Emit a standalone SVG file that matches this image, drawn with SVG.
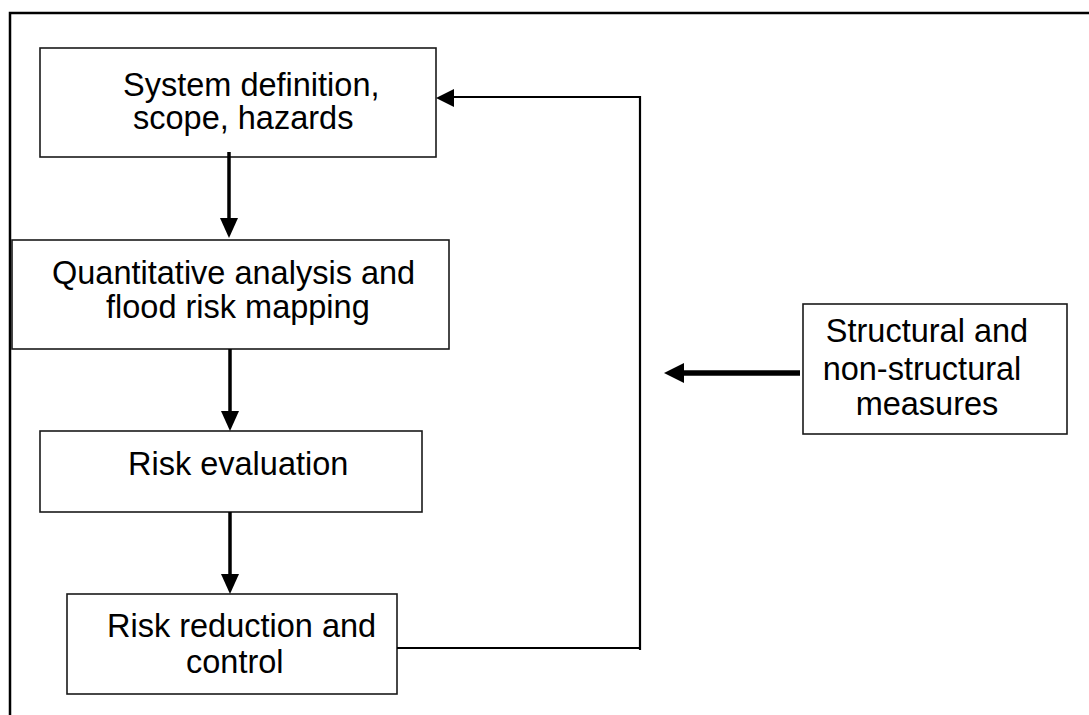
<svg xmlns="http://www.w3.org/2000/svg" width="1089" height="715" viewBox="0 0 1089 715">
<style>
.box{fill:#fff;stroke:#1a1a1a;stroke-width:1.6}
.t{font-family:"Liberation Sans",Arial,sans-serif;font-size:32.5px;fill:#000}
.c{fill:none;stroke:#000}
</style>
<rect width="1089" height="715" fill="#fff"/>
<g id="frame" class="c" stroke-width="2.5">
<path d="M10 715 V13 H1089"/>
</g>
<g id="n1">
<rect class="box" x="40" y="48" width="396" height="109"/>
<text class="t" x="123" y="96">System definition,</text>
<text class="t" x="133" y="129">scope, hazards</text>
</g>
<g id="n2">
<rect class="box" x="12" y="240" width="437" height="109"/>
<text class="t" x="52" y="284">Quantitative analysis and</text>
<text class="t" x="106" y="318">flood risk mapping</text>
</g>
<g id="n3">
<rect class="box" x="40" y="431" width="382" height="81"/>
<text class="t" x="128" y="475">Risk evaluation</text>
</g>
<g id="n4">
<rect class="box" x="67" y="594" width="330" height="100"/>
<text class="t" x="107" y="637">Risk reduction and</text>
<text class="t" x="186" y="673">control</text>
</g>
<g id="n5">
<rect class="box" x="803" y="304" width="264" height="130"/>
<text class="t" x="927" y="342" text-anchor="middle">Structural and</text>
<text class="t" x="922" y="380" text-anchor="middle">non-structural</text>
<text class="t" x="927" y="415" text-anchor="middle">measures</text>
</g>
<g id="connectors">
<path class="c" stroke-width="3.5" d="M229 152 V220"/>
<path d="M220 218 H238 L229 238 Z"/>
<path class="c" stroke-width="3.5" d="M230 349 V413"/>
<path d="M221 411 H239 L230 431 Z"/>
<path class="c" stroke-width="3.5" d="M230 512 V576"/>
<path d="M221 574 H239 L230 594 Z"/>
<path class="c" stroke-width="2.2" d="M397 648 H640 V650 M640 650 V97 H452"/>
<path d="M436 98 L454 89 V107 Z"/>
<path class="c" stroke-width="5.5" d="M800 373 H680"/>
<path d="M664 373 L684 363 V383 Z"/>
</g>
</svg>
